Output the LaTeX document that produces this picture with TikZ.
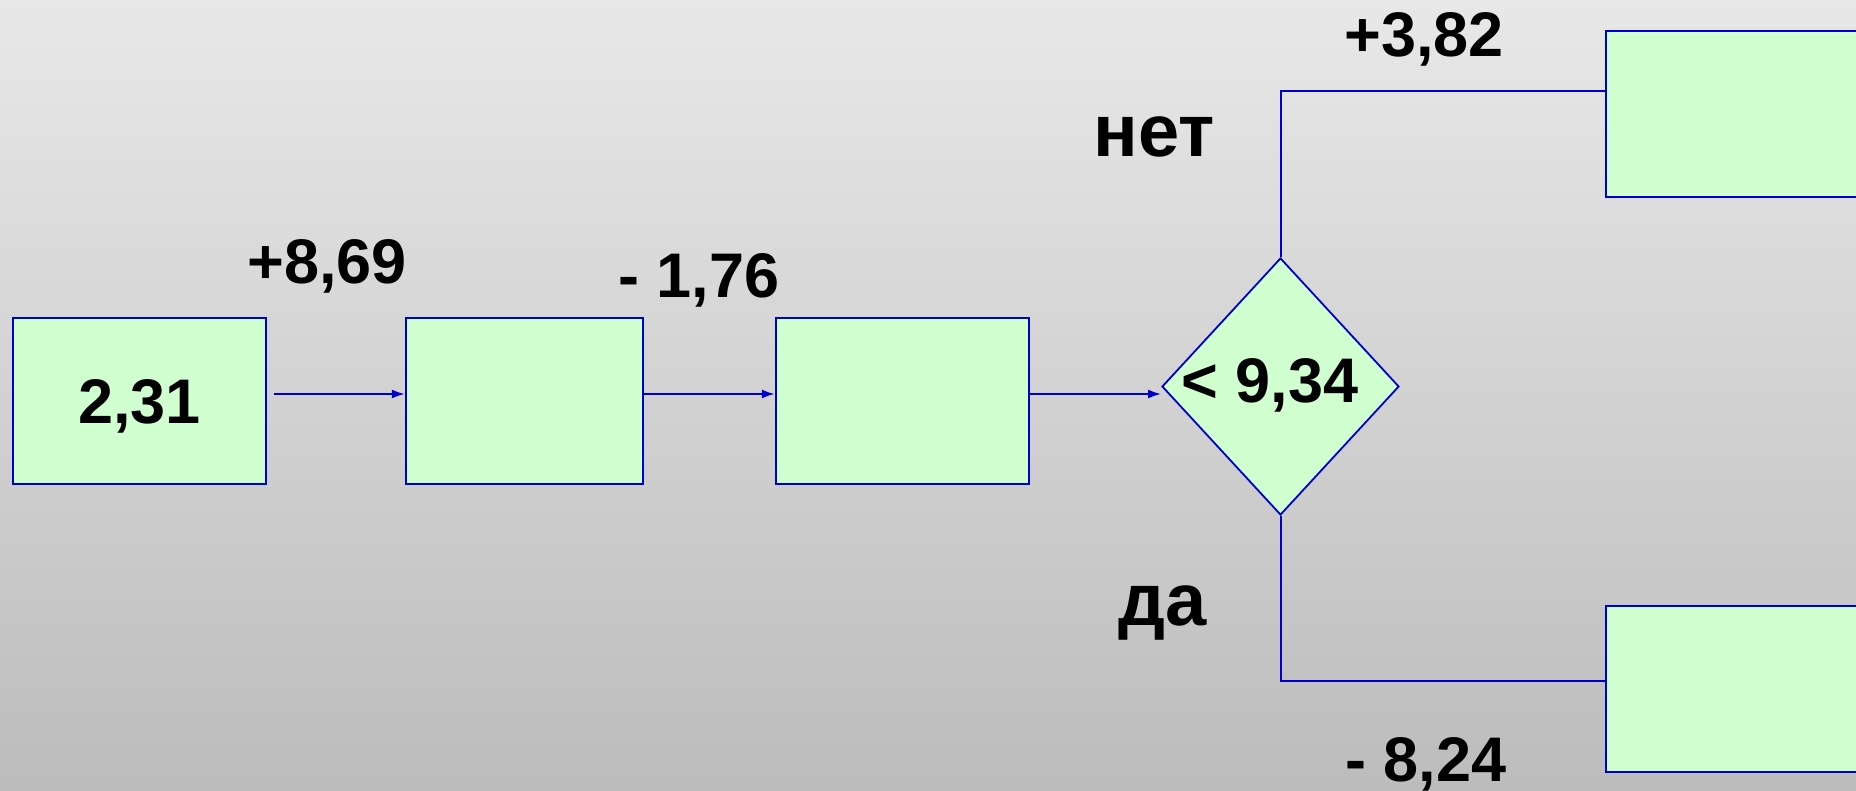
\documentclass[tikz,border=0pt]{standalone}
\usepackage{fontspec}
\setmainfont{Liberation Sans}
\usetikzlibrary{shapes.geometric,arrows.meta}
\definecolor{boxfill}{RGB}{208,255,208}
\definecolor{boxline}{RGB}{0,0,204}
\definecolor{bgtop}{RGB}{232,232,232}
\definecolor{bgbot}{RGB}{188,188,188}
\begin{document}
\begin{tikzpicture}[x=1pt,y=-1pt,
  stepbox/.style={draw=boxline,fill=boxfill,line width=2.4pt,rectangle,inner sep=0pt,minimum height=166pt,
    font=\bfseries\fontsize{63}{63}\selectfont,text height=45pt,text depth=0pt},
  decision/.style={draw=boxline,fill=boxfill,line width=1.8pt,diamond,inner sep=0pt,minimum width=237pt,minimum height=257pt},
  numlabel/.style={anchor=base,inner sep=0pt,font=\bfseries\fontsize{63}{63}\selectfont},
  wordlabel/.style={anchor=base,inner sep=0pt,font=\bfseries\fontsize{74}{74}\selectfont},
  flow/.style={draw=boxline,line width=2pt,-{Latex[length=13pt,width=9pt]}},
  link/.style={draw=boxline,line width=2pt}]
\useasboundingbox (0,0) rectangle (1856,791);
\clip (0,0) rectangle (1856,791);
\shade[top color=bgtop,bottom color=bgbot] (0,0) rectangle (1856,791);
% boxes
\node[stepbox,minimum width=253pt] (b1) at (139.5,401) {2,31};
\node[stepbox,minimum width=237pt] (b2) at (524.5,401) {};
\node[stepbox,minimum width=253pt] (b3) at (902.5,401) {};
\node[decision] (d) at (1280.5,386.5) {};
\node[stepbox,minimum width=253pt,minimum height=166pt] (tr) at (1732.5,114) {};
\node[stepbox,minimum width=253pt,minimum height=166pt] (br) at (1732.5,689) {};
% connectors
\draw[flow,shorten <=7pt] ([yshift=7pt]b1.east) -- ([yshift=7pt]b2.west);
\draw[flow] ([yshift=7pt]b2.east) -- ([yshift=7pt]b3.west);
\coordinate (din) at ([yshift=7pt]b3.east -| d.west);
\draw[flow] ([yshift=7pt]b3.east) -- (din);
\draw[link] (d.north) |- ([yshift=23pt]tr.west);
\draw[link] (d.south) |- ([yshift=8pt]br.west);
% labels
\node[numlabel] (t1) at (1270,403) {< 9,34};
\node[numlabel] (l1) at (327,284) {+8,69};
\node[numlabel] (l2) at (699,298) {- 1,76};
\node[numlabel] (l3) at (1424,57) {+3,82};
\node[numlabel] (l4) at (1426,781) {- 8,24};
\node[wordlabel] (w1) at (1154,157) {нет};
\node[wordlabel] (w2) at (1163,625) {да};
\end{tikzpicture}
\end{document}
